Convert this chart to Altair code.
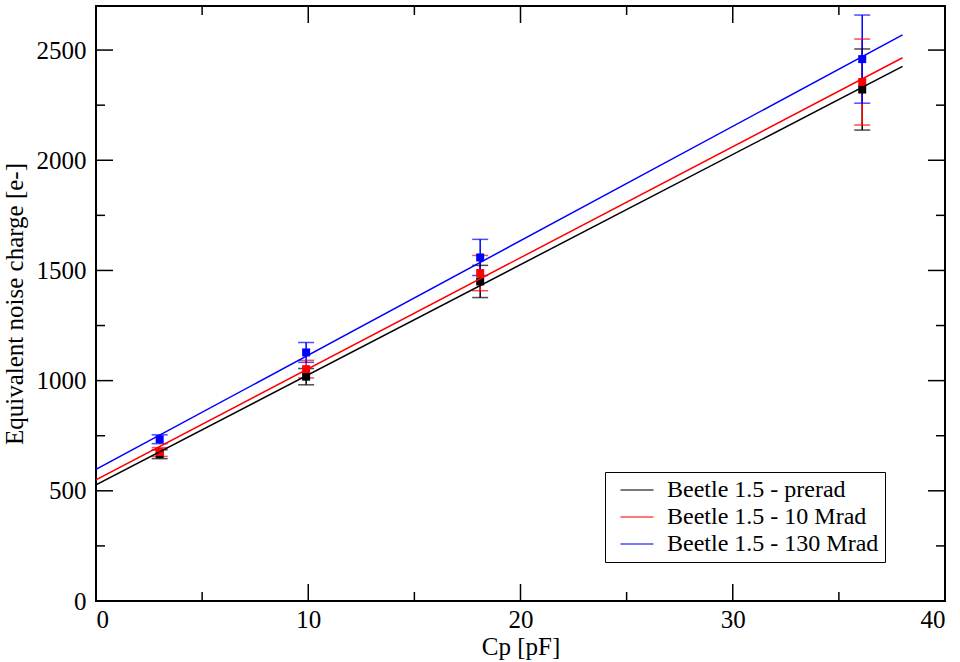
import altair as alt
import pandas as pd

# ---- data ----
cp = [3.0, 9.9, 18.1, 36.1]
series_names = ["Beetle 1.5 - prerad", "Beetle 1.5 - 10 Mrad", "Beetle 1.5 - 130 Mrad"]
enc_black = [666, 1018, 1450, 2321]
err_black = [20, 37, 73, 184]
enc_red = [676, 1052, 1488, 2355]
err_red = [20, 40, 80, 195]
enc_blue = [734, 1128, 1559, 2459]
err_blue = [20, 45, 82, 200]
fit_x = [0, 38]
fit_black = [527, 2426]
fit_red = [550, 2465]
fit_blue = [597, 2569]

x_major = [0, 10, 20, 30, 40]
x_minor = [5, 15, 25, 35]
y_major = [0, 500, 1000, 1500, 2000, 2500]
y_minor = [250, 750, 1250, 1750, 2250]

colors = ["#000000", "#ff0000", "#0000ff"]
FONT = "Liberation Serif"
W, H = 849, 595

pts = []
for name, v, e in zip(series_names, [enc_black, enc_red, enc_blue], [err_black, err_red, err_blue]):
    for xi, yi, ei in zip(cp, v, e):
        pts.append({"series": name, "cp": xi, "enc": yi, "lo": yi - ei, "hi": yi + ei})
pts = pd.DataFrame(pts)

fits = []
for name, f in zip(series_names, [fit_black, fit_red, fit_blue]):
    for xi, yi in zip(fit_x, f):
        fits.append({"series": name, "cp": xi, "enc": yi})
fits = pd.DataFrame(fits)

xs = alt.Scale(domain=[0, 40], nice=False)
ys = alt.Scale(domain=[0, 2700], nice=False)
cs = alt.Scale(domain=series_names, range=colors)

x_axis = alt.Axis(title="Cp [pF]", values=x_major, tickSize=0, domain=False, grid=False,
                  labelPadding=6, titlePadding=2, format="d")
y_axis = alt.Axis(title="Equivalent noise charge [e-]", values=y_major, tickSize=0,
                  domain=False, grid=False, labelPadding=10, titlePadding=9, format="d")
legend = alt.Legend(title=None, orient="none", legendX=509, legendY=466,
                    symbolType="M-2,0H2", symbolSize=272, symbolStrokeWidth=1.5,
                    symbolOffset=14,
                    labelFont=FONT, labelFontSize=24, labelOffset=18, labelLimit=400,
                    strokeColor="black", padding=6, rowPadding=3)


def X(field):
    return alt.X(field, scale=xs, axis=x_axis)


def Y(field):
    return alt.Y(field, scale=ys, axis=y_axis)


color = alt.Color("series:N", scale=cs, sort=series_names, legend=legend)

lines = alt.Chart(fits).mark_line(strokeWidth=1.5, clip=True).encode(
    x=X("cp:Q"), y=Y("enc:Q"), color=color, detail="series:N",
)
err_rules = alt.Chart(pts).mark_rule(strokeWidth=1.5).encode(
    x=X("cp:Q"), y=Y("lo:Q"), y2="hi:Q", color=color,
)
cap_lo = alt.Chart(pts).mark_tick(orient="horizontal", size=16, thickness=1.5).encode(
    x=X("cp:Q"), y=Y("lo:Q"), color=color,
)
cap_hi = alt.Chart(pts).mark_tick(orient="horizontal", size=16, thickness=1.5).encode(
    x=X("cp:Q"), y=Y("hi:Q"), color=color,
)
squares = alt.Chart(pts).mark_square(size=64, opacity=1, filled=True).encode(
    x=X("cp:Q"), y=Y("enc:Q"), color=color,
)

# inward tick marks on all four sides
xmaj = pd.DataFrame({"v": x_major})
xmin = pd.DataFrame({"v": x_minor})
ymaj = pd.DataFrame({"v": y_major})
ymin = pd.DataFrame({"v": y_minor})
MAJ, MIN = 17, 9


def xticks(df, L):
    b = alt.Chart(df).mark_rule(color="black", strokeWidth=1.5).encode(
        x=X("v:Q"), y=alt.value(H), y2=alt.value(H - L))
    t = alt.Chart(df).mark_rule(color="black", strokeWidth=1.5).encode(
        x=X("v:Q"), y=alt.value(0), y2=alt.value(L))
    return [b, t]


def yticks(df, L):
    l = alt.Chart(df).mark_rule(color="black", strokeWidth=1.5).encode(
        y=Y("v:Q"), x=alt.value(0), x2=alt.value(L))
    r = alt.Chart(df).mark_rule(color="black", strokeWidth=1.5).encode(
        y=Y("v:Q"), x=alt.value(W), x2=alt.value(W - L))
    return [l, r]


tick_layers = xticks(xmaj, MAJ) + xticks(xmin, MIN) + yticks(ymaj, MAJ) + yticks(ymin, MIN)

chart = alt.layer(
    lines.mark_line(opacity=0, strokeWidth=1.5), *tick_layers, err_rules, cap_lo, cap_hi, squares, lines
).properties(
    width=W, height=H,
    autosize=alt.AutoSizeParams(type="none"),
    padding={"left": 96, "top": 6, "right": 15, "bottom": 61},
    background="white",
).configure_view(
    stroke="black", strokeWidth=2
).configure_axis(
    labelFont=FONT, titleFont=FONT, labelFontSize=25, titleFontSize=25,
    labelColor="black", titleColor="black", titleFontWeight="normal"
)

chart.save("out.html", embed_options={"renderer": "svg", "actions": False})
